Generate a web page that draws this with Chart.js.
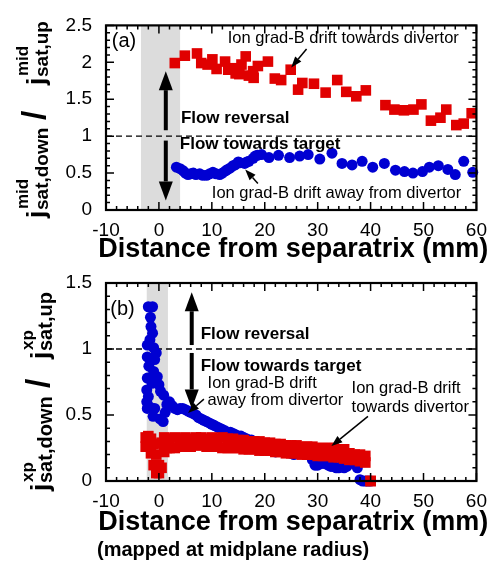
<!DOCTYPE html>
<html><head><meta charset="utf-8">
<script src="https://cdn.jsdelivr.net/npm/chart.js@4.4.0/dist/chart.umd.min.js"></script>
<style>
html,body{margin:0;padding:0;background:#fff;}
#wrap{position:relative;width:496px;height:571px;overflow:hidden;}
canvas{position:absolute;left:0;top:0;}
</style></head><body>
<div id="wrap"><canvas id="c1" width="496" height="571"></canvas><canvas id="c2" width="496" height="571"></canvas></div>
<script>
// ---------- DATA ----------
const xTicks = [-10, 0, 10, 20, 30, 40, 50, 60];
const topYTicks = [0, 0.5, 1, 1.5, 2, 2.5];
const botYTicks = [0, 0.5, 1, 1.5];

// (a) midplane ratio, ion grad-B drift towards divertor (red squares)
const topRedX = [3.0, 4.9, 7.2, 8.0, 9.2, 10.1, 10.9, 12.5, 13.1, 13.8, 14.5, 15.2, 15.6, 16.4, 17.0, 17.8, 17.9, 18.7, 20.6, 21.9, 23.1, 24.9, 26.3, 27.1, 29.3, 31.5, 33.7, 35.4, 37.3, 39.1, 42.8, 44.5, 46.3, 48.1, 49.6, 51.4, 53.2, 54.3, 56.2, 57.6, 59.1];
const topRedY = [1.99, 2.09, 2.12, 1.99, 1.97, 2.04, 1.91, 2.01, 1.90, 1.92, 1.85, 1.84, 1.97, 2.08, 1.82, 1.88, 1.79, 1.95, 2.01, 1.78, 1.76, 1.90, 1.63, 1.72, 1.71, 1.59, 1.76, 1.60, 1.54, 1.62, 1.42, 1.36, 1.35, 1.36, 1.43, 1.21, 1.25, 1.36, 1.15, 1.17, 1.31];
// (a) ion grad-B drift away from divertor (blue circles)
const topBlueX = [3.3, 4.0, 4.6, 5.0, 5.5, 6.0, 6.5, 7.0, 7.7, 8.3, 9.0, 9.6, 10.2, 10.8, 11.5, 12.0, 12.6, 13.0, 13.5, 14.0, 14.4, 15.0, 15.3, 16.2, 16.6, 17.0, 17.8, 18.2, 18.6, 19.4, 20.8, 22.6, 24.7, 26.6, 28.2, 30.4, 32.7, 34.6, 36.5, 38.4, 40.4, 42.6, 44.7, 46.4, 48.0, 49.8, 51.1, 52.8, 54.6, 56.0, 57.6, 59.3];
const topBlueY = [0.58, 0.56, 0.53, 0.50, 0.48, 0.49, 0.50, 0.48, 0.49, 0.47, 0.47, 0.49, 0.51, 0.49, 0.48, 0.50, 0.53, 0.55, 0.57, 0.60, 0.61, 0.65, 0.64, 0.63, 0.65, 0.66, 0.70, 0.73, 0.74, 0.75, 0.71, 0.74, 0.71, 0.73, 0.75, 0.69, 0.77, 0.63, 0.61, 0.66, 0.58, 0.63, 0.54, 0.52, 0.50, 0.52, 0.58, 0.60, 0.55, 0.48, 0.66, 0.51];

// (b) X-point ratio, ion grad-B drift towards divertor (red squares, two rows)
const botRedX    = [-2.5, -2, -1.5, -1, -0.5, 0, 0.5, 1, 1.5, 2,
  3, 4, 5, 6, 7, 8, 9, 10, 11, 12, 13, 14, 15, 16, 17, 18, 19, 20, 21, 22, 23, 24, 25, 26, 27, 28, 29, 30, 31, 32, 33, 34, 35, 36, 37, 38, 39, 40];
const botRedUpY  = [0.33, 0.34, 0.32, 0.28, 0.20, 0.12, 0.29, 0.33, 0.32, 0.32,
  0.33, 0.32, 0.33, 0.32, 0.33, 0.33, 0.32, 0.33, 0.32, 0.33, 0.32, 0.32, 0.31, 0.31, 0.30, 0.30, 0.30, 0.29, 0.29, 0.28, 0.28, 0.27, 0.27, 0.27, 0.26, 0.26, 0.26, 0.25, 0.25, 0.25, 0.25, 0.24, 0.24, 0.21, 0.20, 0.20, 0.19, 0.0];
const botRedLowY = [0.26, 0.26, 0.21, 0.12, 0.06, 0.06, 0.10, 0.22, 0.25, 0.25,
  0.25, 0.26, 0.26, 0.26, 0.27, 0.27, 0.26, 0.26, 0.26, 0.25, 0.25, 0.25, 0.25, 0.24, 0.24, 0.24, 0.23, 0.23, 0.23, 0.22, 0.22, 0.21, 0.21, 0.21, 0.20, 0.20, 0.20, 0.19, 0.19, 0.19, 0.18, 0.18, 0.17, 0.16, 0.16, 0.15, 0.14, 0.0];
// (b) ion grad-B drift away from divertor (blue circles)
const botBlueX = [-2.0, -1.2, -1.6, -1.5, -1.2, -1.7, -2.2, -1.0, -0.5, -2.2,
  -0.8, -1.9, -1.0, -0.3, -2.2, -1.3, 0.0, -2.3, 0.3, -2.0,
  0.9, -2.3, -1.7, -0.8, -2.2, -1.1, 0.2, 0.8, 1.2, 1.5,
  2.0, 2.5, 3.0, 3.5, 4.0, 4.5, 5.0, 5.5, 6.0, 6.5,
  7.0, 7.5, 8.0, 8.5, 9.0, 9.5, 10.0, 10.5, 11.0, 11.5,
  12.0, 12.5, 13.0, 13.5, 14.0, 14.5, 15.0, 15.5, 16.0, 16.5,
  17.0, 17.5, 18.0, 18.5, 19.0, 19.5, 20.0, 20.5, 21.0, 21.5,
  22.0, 22.5, 23.0, 23.5, 24.0, 24.5, 25.0, 25.5, 26.0, 26.5,
  27.0, 27.5, 28.0, 28.5, 29.0, 29.5, 30.0, 30.5, 31.0, 31.5,
  32.0, 32.5, 33.0, 33.5, 34.0, 34.5, 35.0, 35.5, 36.0, 36.5,
  37.0, 37.5, 38.0, 38.5, 39.0, 39.5, 40.0];
const botBlueY = [1.32, 1.32, 1.24, 1.17, 1.12, 1.07, 1.03, 1.01, 0.97, 0.94,
  0.92, 0.87, 0.83, 0.79, 0.78, 0.74, 0.73, 0.69, 0.68, 0.64,
  0.65, 0.60, 0.56, 0.55, 0.55, 0.49, 0.47, 0.45, 0.52, 0.58,
  0.60, 0.57, 0.55, 0.54, 0.55, 0.55, 0.54, 0.53, 0.52, 0.51,
  0.50, 0.48, 0.47, 0.46, 0.45, 0.44, 0.43, 0.42, 0.41, 0.40,
  0.39, 0.38, 0.37, 0.37, 0.36, 0.35, 0.34, 0.34, 0.33, 0.32,
  0.31, 0.31, 0.30, 0.30, 0.29, 0.29, 0.28, 0.27, 0.25, 0.23,
  0.22, 0.23, 0.24, 0.25, 0.24, 0.23, 0.21, 0.20, 0.21, 0.22,
  0.22, 0.21, 0.20, 0.20, 0.16, 0.12, 0.12, 0.13, 0.14, 0.13,
  0.12, 0.11, 0.11, 0.10, 0.10, 0.11, 0.10, 0.11, 0.14, 0.16,
  0.13, 0.10, 0.01, 0.0, 0.0, 0.0, 0.0];

// ---------- HELPERS ----------
const FONT = "'Liberation Sans', Arial, Helvetica, sans-serif";
const RED = '#e00000', BLUE = '#0000d2';
const pts = (xs, ys) => xs.map((x, i) => ({x, y: ys[i]}));

function arrow(ctx, x1, y1, x2, y2, headLen, headW, lw) {
  const ang = Math.atan2(y2 - y1, x2 - x1);
  const bx = x2 - headLen * Math.cos(ang), by = y2 - headLen * Math.sin(ang);
  ctx.save();
  ctx.strokeStyle = '#000'; ctx.fillStyle = '#000'; ctx.lineWidth = lw; ctx.lineCap = 'butt';
  ctx.beginPath(); ctx.moveTo(x1, y1); ctx.lineTo(bx, by); ctx.stroke();
  ctx.beginPath();
  ctx.moveTo(x2, y2);
  ctx.lineTo(bx + headW / 2 * Math.sin(ang), by - headW / 2 * Math.cos(ang));
  ctx.lineTo(bx - headW / 2 * Math.sin(ang), by + headW / 2 * Math.cos(ang));
  ctx.closePath(); ctx.fill();
  ctx.restore();
}

function rotText(ctx, txt, size, bx, sy) {
  ctx.save();
  ctx.font = 'bold ' + size + 'px ' + FONT;
  ctx.fillStyle = '#000'; ctx.textAlign = 'left'; ctx.textBaseline = 'alphabetic';
  ctx.translate(bx, sy); ctx.rotate(-Math.PI / 2);
  ctx.fillText(txt, 0, 0);
  ctx.restore();
}

const decoPlugin = {
  id: 'deco',
  beforeDatasetsDraw(chart, args, o) {
    const {ctx, chartArea: a, scales: {x, y}} = chart;
    ctx.save();
    ctx.fillStyle = '#dcdcdc';
    const b1 = x.getPixelForValue(o.band[0]), b2 = x.getPixelForValue(o.band[1]);
    ctx.fillRect(b1, a.top, b2 - b1, a.bottom - a.top);
    ctx.strokeStyle = '#000'; ctx.lineWidth = 1.3; ctx.setLineDash([6, 4]);
    const yy = y.getPixelForValue(1);
    ctx.beginPath(); ctx.moveTo(a.left, yy); ctx.lineTo(a.right, yy); ctx.stroke();
    ctx.restore();
  },
  afterDatasetsDraw(chart, args, o) {
    const {ctx, chartArea: a, scales: {x, y}} = chart;
    ctx.save();
    ctx.strokeStyle = '#000'; ctx.lineWidth = 2.2;
    ctx.strokeRect(a.left, a.top, a.right - a.left, a.bottom - a.top);
    ctx.lineWidth = 1.5;
    ctx.beginPath();
    for (let v = -10; v <= 60.001; v += 2) {
      const px = x.getPixelForValue(v);
      const L = (Math.abs(v % 10) < 1e-6) ? 8 : 4;
      ctx.moveTo(px, a.bottom); ctx.lineTo(px, a.bottom - L);
      ctx.moveTo(px, a.top); ctx.lineTo(px, a.top + L);
    }
    for (let k = 0; k <= Math.round(o.ymax / 0.1); k++) {
      const py = y.getPixelForValue(k * 0.1);
      const L = (k % 5 === 0) ? 8 : 4;
      ctx.moveTo(a.left, py); ctx.lineTo(a.left + L, py);
      ctx.moveTo(a.right, py); ctx.lineTo(a.right - L, py);
    }
    ctx.stroke();
    ctx.fillStyle = '#000'; ctx.textBaseline = 'middle'; ctx.textAlign = 'left';
    for (const t of o.texts) {
      ctx.font = (t.bold ? 'bold ' : '') + t.size + 'px ' + FONT;
      ctx.fillText(t.s, x.getPixelForValue(t.x), y.getPixelForValue(t.y));
    }
    for (const ar of o.arrows) {
      arrow(ctx, x.getPixelForValue(ar[0]), y.getPixelForValue(ar[1]),
            x.getPixelForValue(ar[2]), y.getPixelForValue(ar[3]), ar[4], ar[5], ar[6]);
    }
    ctx.textAlign = 'center';
    ctx.font = 'bold 27px ' + FONT;
    ctx.fillText('Distance from separatrix (mm)', (a.left + a.right) / 2 + 2, a.bottom + o.titleOff);
    if (o.sub) {
      ctx.textAlign = 'left';
      ctx.font = 'bold 20px ' + FONT;
      ctx.fillText(o.sub, 97, a.bottom + o.subOff);
    }
    for (const p of o.ytitle) rotText(ctx, p[0], p[1], p[2], p[3]);
    ctx.restore();
  }
};

function makeChart(id, datasets, ymax, yticks, padTop, plotBottom, deco) {
  return new Chart(document.getElementById(id), {
    type: 'scatter',
    data: {datasets},
    options: {
      responsive: false, animation: false, events: [],
      layout: {padding: {left: 0, top: padTop, right: 19, bottom: 0}},
      plugins: {legend: {display: false}, tooltip: {enabled: false}, deco},
      scales: {
        x: {
          type: 'linear', min: -10, max: 60,
          afterBuildTicks: s => { s.ticks = xTicks.map(v => ({value: v})); },
          afterFit: s => { s.height = 571 - plotBottom; },
          grid: {display: false, drawTicks: false}, border: {display: false},
          ticks: {color: '#000', padding: 9, font: {family: FONT, size: 19}, maxRotation: 0, callback: v => String(v)}
        },
        y: {
          type: 'linear', min: 0, max: ymax,
          afterBuildTicks: s => { s.ticks = yticks.map(v => ({value: v})); },
          afterFit: s => { s.width = 106; },
          grid: {display: false, drawTicks: false}, border: {display: false},
          ticks: {color: '#000', padding: 14, font: {family: FONT, size: 19}, callback: v => String(v)}
        }
      }
    },
    plugins: [decoPlugin]
  });
}

makeChart('c1', [
  {data: pts(topRedX, topRedY), pointStyle: 'rect', pointRadius: 7.5, backgroundColor: RED, borderWidth: 0, clip: false},
  {data: pts(topBlueX, topBlueY), pointStyle: 'circle', pointRadius: 5.5, backgroundColor: BLUE, borderWidth: 0, clip: false}
], 2.5, topYTicks, 13, 210, {
  band: [-3.4, 4.0], ymax: 2.5, titleOff: 40,
  texts: [
    {s: '(a)', x: -8.9, y: 2.28, size: 20},
    {s: 'Ion grad-B drift towards divertor', x: 13.0, y: 2.32, size: 16.5},
    {s: 'Flow reversal', x: 4.15, y: 1.24, size: 17, bold: true},
    {s: 'Flow towards target', x: 3.96, y: 0.89, size: 17, bold: true},
    {s: 'Ion grad-B drift away from divertor', x: 10.0, y: 0.22, size: 16.5}
  ],
  arrows: [
    [27.9, 2.18, 25.0, 1.93, 11, 8, 1.5],
    [18.7, 0.36, 16.3, 0.55, 11, 8, 1.5],
    [1.3, 1.08, 1.3, 1.88, 19, 14, 4],
    [1.3, 0.94, 1.3, 0.13, 19, 14, 4]
  ],
  ytitle: [
    ['j', 26, 45, 218], ['mid', 17, 28, 209], ['sat,down', 19, 48, 210],
    ['/', 34, 45, 120],
    ['j', 26, 45, 85], ['mid', 17, 28, 76], ['sat,up', 19, 48, 77]
  ]
});

makeChart('c2', [
  {data: pts(botRedX, botRedUpY), pointStyle: 'rect', pointRadius: 7.5, backgroundColor: RED, borderWidth: 0, clip: false},
  {data: pts(botRedX, botRedLowY), pointStyle: 'rect', pointRadius: 7.5, backgroundColor: RED, borderWidth: 0, clip: false},
  {data: pts(botBlueX, botBlueY), pointStyle: 'circle', pointRadius: 5.5, backgroundColor: BLUE, borderWidth: 0, clip: false}
], 1.5, botYTicks, 283, 481, {
  band: [-2.3, 1.7], ymax: 1.5, titleOff: 42, sub: '(mapped at midplane radius)', subOff: 69,
  texts: [
    {s: '(b)', x: -9.2, y: 1.30, size: 20},
    {s: 'Flow reversal', x: 7.9, y: 1.11, size: 17, bold: true},
    {s: 'Flow towards target', x: 7.9, y: 0.87, size: 17, bold: true},
    {s: 'Ion grad-B drift', x: 9.2, y: 0.74, size: 16.5},
    {s: 'away from divertor', x: 9.2, y: 0.61, size: 16.5},
    {s: 'Ion grad-B drift', x: 36.4, y: 0.70, size: 16.5},
    {s: 'towards divertor', x: 36.4, y: 0.56, size: 16.5}
  ],
  arrows: [
    [8.5, 0.62, 5.5, 0.515, 11, 8, 1.5],
    [39.5, 0.49, 32.6, 0.265, 11, 8, 1.5],
    [6.2, 1.03, 6.2, 1.43, 19, 14, 4],
    [6.2, 0.97, 6.2, 0.55, 19, 14, 4]
  ],
  ytitle: [
    ['j', 26, 49, 491], ['xp', 17, 33, 482], ['sat,down', 20, 52, 483],
    ['/', 34, 49, 388],
    ['j', 26, 49, 359], ['xp', 17, 33, 350], ['sat,up', 20, 52, 351]
  ]
});
</script>
</body></html>
